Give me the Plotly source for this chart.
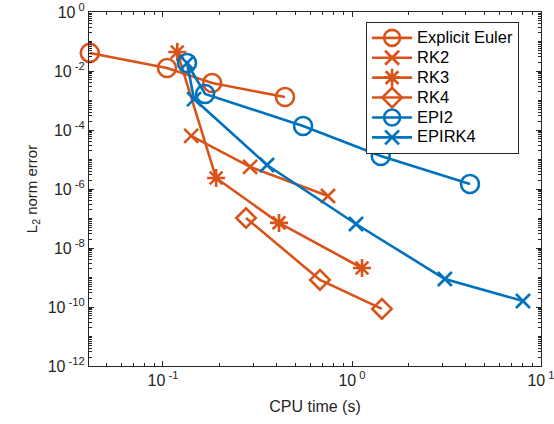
import plotly.graph_objects as go
import numpy as np

# ---- data ----
euler_t = [0.041, 0.105, 0.182, 0.442]
euler_e = [0.041, 0.0126, 0.0039, 0.00131]

rk2_t = [0.141, 0.289, 0.746]
rk2_e = [6.3e-5, 5.6e-6, 5.8e-7]

rk3_t = [0.119, 0.191, 0.411, 1.13]
rk3_e = [0.044, 2.35e-6, 7.1e-8, 2.1e-9]

rk4_t = [0.275, 0.677, 1.44]
rk4_e = [1.04e-7, 8.3e-10, 8.6e-11]

epi2_t = [0.134, 0.167, 0.551, 1.42, 4.21]
epi2_e = [0.0187, 0.00166, 1.37e-4, 1.31e-5, 1.48e-6]

epirk4_t = [0.134, 0.146, 0.355, 1.05, 3.10, 8.03]
epirk4_e = [0.0187, 0.00112, 6.5e-6, 6.5e-8, 8.9e-10, 1.6e-10]

series_names = ["Explicit Euler", "RK2", "RK3", "RK4", "EPI2", "EPIRK4"]

x_tickvals = [0.1, 1, 10]
x_ticktext = ["10<sup> -1</sup>", "10<sup> 0</sup>", "10<sup> 1</sup>"]
y_tickvals = [1, 1e-2, 1e-4, 1e-6, 1e-8, 1e-10, 1e-12]
y_ticktext = ["10<sup> 0</sup>", "10<sup> -2</sup>", "10<sup> -4</sup>", "10<sup> -6</sup>",
              "10<sup> -8</sup>", "10<sup> -10</sup>", "10<sup> -12</sup>"]

ORANGE = "#D95319"
BLUE = "#0072BD"
LW = 2.6
FONT = "Liberation Sans, Arial, sans-serif"

fig = go.Figure()

def add(name, x, y, color, symbol, size):
    fig.add_trace(go.Scatter(
        x=x, y=y, name='<span style="font-size:16.5px">' + name + '</span>',
        mode="lines+markers",
        line=dict(color=color, width=LW),
        marker=dict(symbol=symbol, size=size, color=color,
                    line=dict(color=color, width=LW)),
        cliponaxis=False,
    ))

add(series_names[0], euler_t, euler_e, ORANGE, "circle-open", 18)
add(series_names[1], rk2_t, rk2_e, ORANGE, "x-thin-open", 14)
add(series_names[2], rk3_t, rk3_e, ORANGE, "asterisk-open", 15)
add(series_names[3], rk4_t, rk4_e, ORANGE, "diamond-open", 15)
add(series_names[4], epi2_t, epi2_e, BLUE, "circle-open", 18)
add(series_names[5], epirk4_t, epirk4_e, BLUE, "x-thin-open", 14)

# minor tick positions
x_minor = [m * 10.0**k for k in range(-2, 1) for m in range(2, 10)]
x_minor = [v for v in x_minor if 0.0406 <= v <= 10]
y_minor = [m * 10.0**k for k in range(-12, 0) for m in range(1, 10)]
y_minor = [v for v in y_minor if v not in y_tickvals]

AXC = "#262626"
fig.update_xaxes(
    type="log", range=[np.log10(0.0406), 1], automargin=False,
    tickvals=x_tickvals, ticktext=x_ticktext, ticklabeloverflow="allow",
    ticks="inside", ticklen=5, tickcolor=AXC, tickwidth=1,
    showline=True, linecolor=AXC, linewidth=1, mirror="allticks",
    showgrid=False, zeroline=False,
    minor=dict(tickvals=x_minor, ticks="inside", ticklen=3, tickcolor=AXC, showgrid=False),
    tickfont=dict(family=FONT, size=16, color="#262626"),
    title=dict(text="CPU time (s)", standoff=12,
               font=dict(family=FONT, size=16, color="#262626")),
)
fig.update_yaxes(
    type="log", range=[-12, 0], automargin=False,
    tickvals=y_tickvals, ticktext=y_ticktext, ticklabeloverflow="allow",
    ticks="inside", ticklen=5, tickcolor=AXC, tickwidth=1,
    showline=True, linecolor=AXC, linewidth=1, mirror="allticks",
    showgrid=False, zeroline=False,
    minor=dict(tickvals=y_minor, ticks="inside", ticklen=3, tickcolor=AXC, showgrid=False),
    tickfont=dict(family=FONT, size=16, color="#262626"),
    title=dict(text="L<sub>2</sub> norm error", standoff=6,
               font=dict(family=FONT, size=15, color="#262626")),
)

fig.update_layout(
    width=554, height=424,
    margin=dict(l=89, r=13, t=12, b=58),
    paper_bgcolor="white", plot_bgcolor="white",
    showlegend=True,
    legend=dict(
        x=0.613, y=0.972, xanchor="left", yanchor="top",
        bgcolor="white", bordercolor=AXC, borderwidth=1,
        font=dict(family=FONT, size=13, color="black"),
        itemwidth=40, tracegroupgap=0,
    ),
)

# remove the default page margin so the 554x424 figure fills the window
fig.write_html("out.html",
               config={"displayModeBar": False},
               post_script="document.body.style.margin='0';document.body.style.overflow='hidden';")
